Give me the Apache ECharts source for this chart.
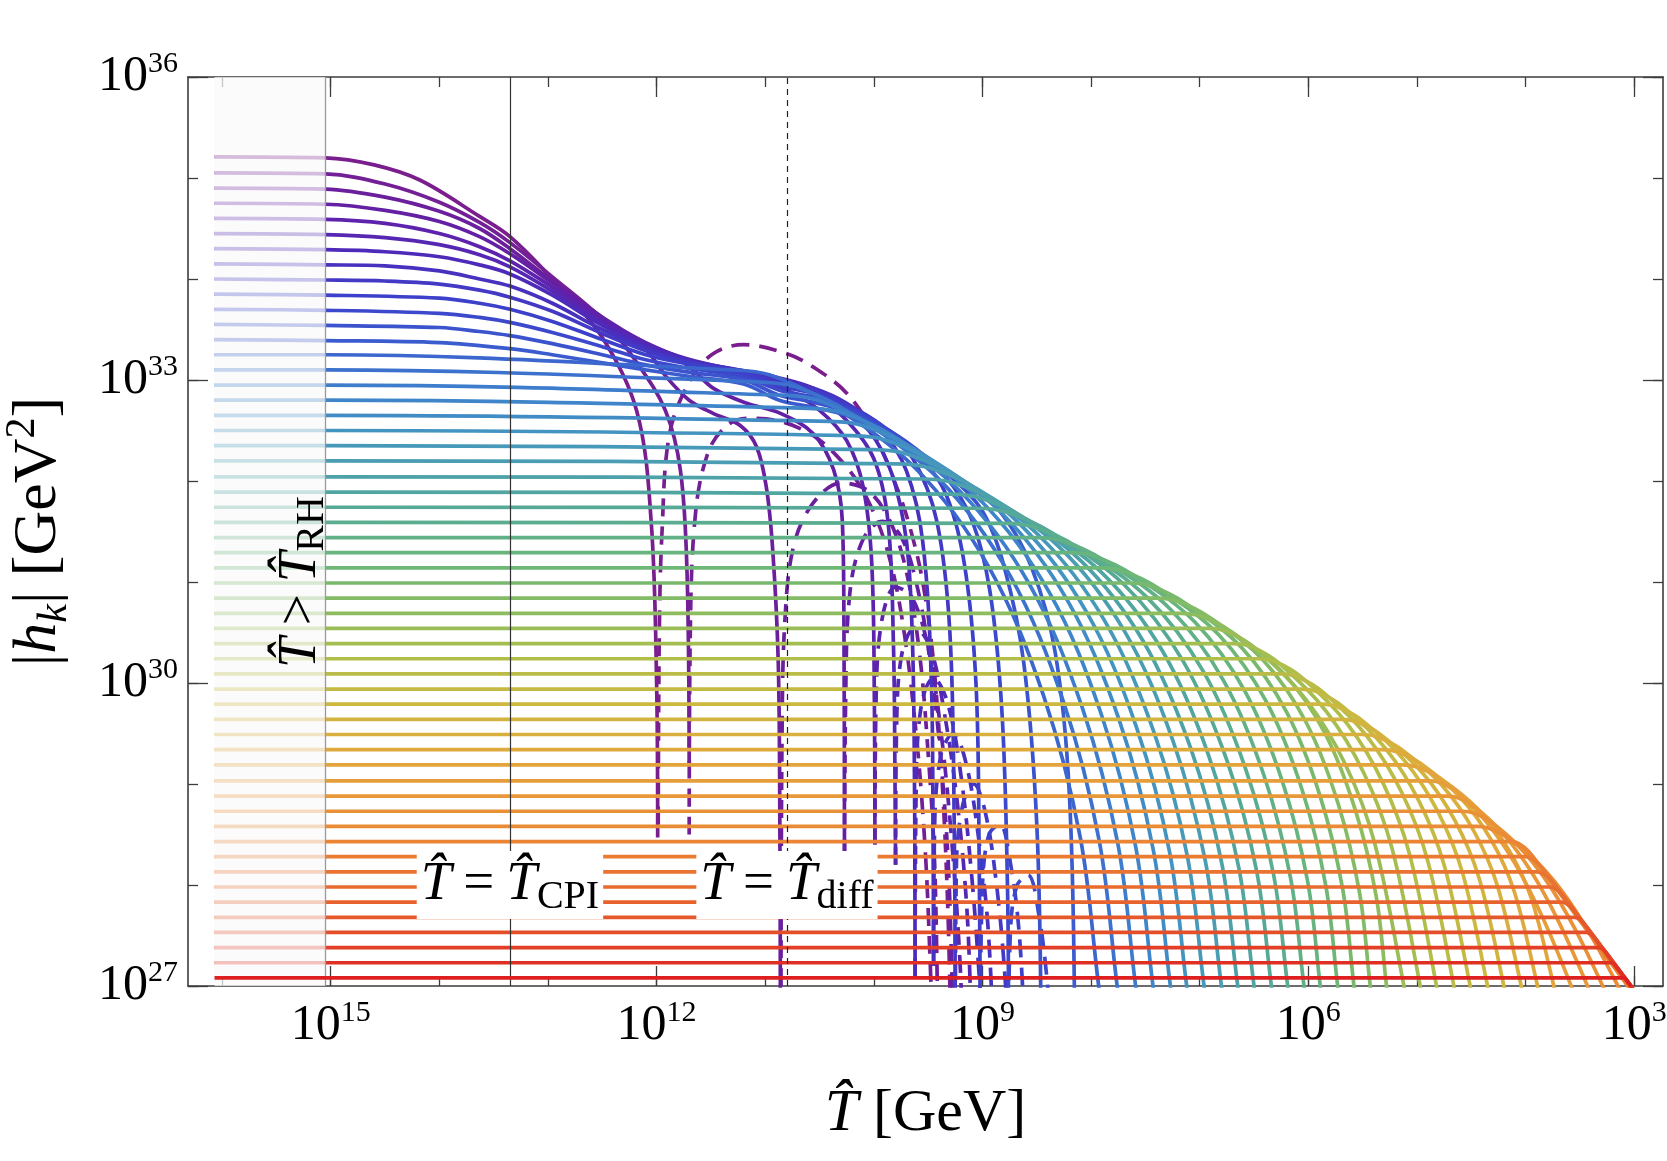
<!DOCTYPE html>
<html>
<head>
<meta charset="utf-8">
<script src="https://cdn.jsdelivr.net/npm/echarts@6/dist/echarts.min.js"></script>
<style>
  html, body { margin: 0; padding: 0; background: #fff; }
  #chart { width: 1667px; height: 1161px; }
</style>
</head>
<body>
<div id="chart"></div>
<script>
// all values are log10: x = log10(T / GeV), y = log10(|h_k| / GeV^2)
const X_MIN = 2.735, X_MAX = 16.314
const Y_MIN = 27, Y_MAX = 36
const X_TICKS  = [3, 4, 5, 6, 7, 8, 9, 10, 11, 12, 13, 14, 15, 16]
const X_LABELS = [3, 6, 9, 12, 15]
const Y_TICKS  = [27, 28, 29, 30, 31, 32, 33, 34, 35, 36]
const Y_LABELS = [27, 30, 33, 36]

const T_START = 16.07
const T_RH    = 15.05
const T_CPI   = 13.35
const T_DIFF  = 10.80

// flat (super-horizon) level of every mode, top to bottom
const LEVELS = [
  35.21, 35.05, 34.90, 34.75, 34.60, 34.45, 34.30, 34.15, 34.00, 33.85,
  33.70, 33.55, 33.40, 33.25, 33.10, 32.95, 32.80, 32.65, 32.50, 32.35,
  32.20, 32.04, 31.89, 31.74, 31.59, 31.44, 31.29, 31.14, 30.99, 30.84,
  30.69, 30.54, 30.39, 30.24, 30.09, 29.94, 29.79, 29.64, 29.49, 29.34,
  29.19, 29.03, 28.88, 28.73, 28.58, 28.43, 28.28, 28.13, 27.98, 27.83,
  27.68, 27.53, 27.38, 27.23, 27.08,
]

// the highest modes, read point by point (after T_RH)
const TOP_0  = [[15.05,35.2],[14.6,35.13],[14.18,34.98],[13.63,34.62],[13.35,34.42],[12.96,34.0],[12.5,33.42],[12.18,32.68],[12.05,31.6],[12.0,30.0],[11.99,28.47]]
const TOP_1  = [[15.05,35.04],[14.5,34.94],[14.0,34.76],[13.63,34.56],[13.35,34.36],[12.96,34.02],[12.5,33.6],[12.2,33.2],[11.92,32.7],[11.78,32.1],[11.72,31.1],[11.7,29.2]]
const TOP_2  = [[15.05,34.89],[14.5,34.81],[14.0,34.67],[13.63,34.5],[13.35,34.3],[12.96,33.98],[12.5,33.62],[12.1,33.3],[11.91,33.03],[11.7,32.8],[11.48,32.67],[11.23,32.55],[11.08,32.34],[10.99,31.94],[10.93,31.3],[10.88,30.2],[10.865,28.5],[10.86,26.5]]
const TOP_3  = [[15.05,34.74],[14.5,34.68],[14.0,34.57],[13.63,34.42],[13.35,34.25],[12.96,33.96],[12.5,33.62],[12.1,33.36],[11.72,33.15],[11.48,32.92],[11.17,32.77],[10.86,32.67],[10.56,32.47],[10.37,32.11],[10.29,31.6],[10.275,30.5],[10.27,27.9]]
const TOP_4  = [[15.05,34.59],[14.5,34.55],[14.0,34.45],[13.63,34.32],[13.35,34.18],[12.96,33.92],[12.5,33.6],[12.1,33.37],[11.72,33.2],[11.2,33.05],[10.8,32.9],[10.5,32.7],[10.25,32.4],[10.1,31.95],[10.02,31.2],[9.995,29.8],[9.99,28.4]]
const TOP_5  = [[15.05,34.44],[14.5,34.41],[14.0,34.34],[13.63,34.24],[13.35,34.12],[12.96,33.88],[12.5,33.57],[12.1,33.36],[11.72,33.21],[11.2,33.08],[10.87,33.0],[10.56,32.86],[10.25,32.6],[10.0,32.22],[9.87,31.6],[9.82,30.4],[9.805,29.0],[9.8,28.2]]
const TOP_6  = [[15.05,34.29],[14.5,34.27],[14.0,34.22],[13.63,34.14],[13.35,34.05],[12.96,33.84],[12.5,33.54],[12.1,33.34],[11.72,33.2],[11.2,33.09],[10.87,33.02],[10.56,32.92],[10.25,32.72],[9.98,32.4],[9.8,31.95],[9.68,31.2],[9.63,29.6],[9.62,27.1]]
const TOP_7  = [[15.05,34.14],[14.5,34.13],[14.0,34.08],[13.63,34.0],[13.35,33.93],[12.96,33.76],[12.5,33.5],[12.1,33.32],[11.72,33.19],[11.2,33.09],[10.87,33.0],[10.56,32.92],[10.25,32.77],[9.94,32.52],[9.7,32.1],[9.55,31.4],[9.47,30.0],[9.455,28.5],[9.45,27.2]]
const TOP_8  = [[15.05,33.99],[14.5,33.98],[14.0,33.95],[13.63,33.89],[13.35,33.82],[12.96,33.68],[12.5,33.46],[12.1,33.29],[11.72,33.18],[11.2,33.08],[10.87,32.97],[10.56,32.9],[10.25,32.76],[9.94,32.56],[9.64,32.22],[9.42,31.6],[9.3,30.5],[9.26,28.6],[9.25,26.5]]
const TOP_9  = [[15.05,33.84],[14.0,33.81],[13.63,33.76],[13.35,33.7],[12.96,33.58],[12.5,33.4],[12.1,33.25],[11.72,33.16],[11.2,33.06],[10.87,32.94],[10.56,32.87],[10.25,32.74],[9.94,32.56],[9.64,32.31],[9.35,31.9],[9.17,31.2],[9.06,30.0],[9.03,28.2],[9.02,26.5]]
const TOP_10 = [[15.05,33.69],[14.0,33.66],[13.63,33.62],[13.35,33.57],[12.96,33.47],[12.5,33.33],[12.1,33.2],[11.72,33.12],[11.2,33.03],[10.87,32.9],[10.56,32.83],[10.25,32.72],[9.94,32.55],[9.64,32.34],[9.35,32.06],[9.1,31.62],[8.93,30.9],[8.82,29.7],[8.77,28.0],[8.76,26.5]]
const TOP_11 = [[15.05,33.54],[14.0,33.52],[13.63,33.48],[13.35,33.44],[12.96,33.36],[12.5,33.25],[12.1,33.15],[11.72,33.08],[11.2,33.0],[10.87,32.85],[10.56,32.78],[10.25,32.69],[9.94,32.53],[9.64,32.33],[9.3,32.05],[9.0,31.7],[8.8,31.15],[8.62,30.2],[8.5,28.6],[8.46,26.5]]
const TOP_12 = [[15.05,33.39],[14.0,33.37],[13.35,33.31],[12.96,33.25],[12.5,33.17],[12.1,33.1],[11.72,33.04],[11.2,32.96],[10.87,32.8],[10.56,32.73],[10.25,32.65],[9.94,32.5],[9.64,32.31],[9.2,32.0],[8.84,31.7],[8.55,31.15],[8.33,30.3],[8.2,28.9],[8.15,26.5]]

// the other modes: where they bend away from their level, where they cross 10^27, and how much they sag before
const SHOULDER_T = [
  11.3, 11.05, 10.85, 10.6, 10.4, 10.2, 10.0, 9.78, 9.55, 9.3,
  9.05, 8.78, 8.5, 8.2, 7.92, 7.65, 7.4, 7.18, 6.92, 6.69,
  6.46, 6.26, 6.07, 5.88, 5.70, 5.51, 5.32, 5.14, 4.88, 4.72,
  4.58, 4.45, 4.13, 4.01, 3.90, 3.78, 3.67, 3.55, 3.44, 3.32,
  3.21, 3.09,
]
const FLOOR_T = [
  7.93, 7.76, 7.59, 7.43, 7.27, 7.12, 6.96, 6.80, 6.65, 6.50,
  6.34, 6.19, 6.04, 5.89, 5.73, 5.58, 5.43, 5.28, 5.12, 4.97,
  4.82, 4.66, 4.51, 4.35, 4.20, 4.04, 3.89, 3.74, 3.58, 3.43,
  3.29, 3.15, 3.06, 3.05, 3.04, 3.04, 3.03, 3.03, 3.03, 3.03,
  3.03, 3.03,
]
const SAG = [
  0.15, 0.12, 0.10, 0.08, 0.06, 0.05, 0.04, 0.03, 0.02, 0.02,
  0.01, 0.01, 0, 0, 0, 0, 0, 0, 0, 0,
  0, 0, 0, 0, 0, 0, 0, 0, 0, 0,
  0, 0, 0, 0, 0, 0, 0, 0, 0, 0,
  0, 0,
]
// shapes of a bend, as fractions of its width and of its drop to 10^27
// high modes bend like a quarter ellipse, lower ones run more straight into the floor
const ARC_HIGH = [[0, 0], [0.1, 0.008], [0.25, 0.05], [0.5, 0.16], [0.7, 0.32], [0.85, 0.53], [0.95, 0.76], [1, 1], [1.05, 1.22]]
const ARC_MID  = [[0, 0], [0.1, 0.01], [0.25, 0.06], [0.5, 0.2], [0.7, 0.38], [0.85, 0.6], [1, 1], [1.05, 1.16]]
const ARC_LOW  = [[0, 0], [0.08, 0.01], [0.2, 0.06], [0.4, 0.2], [0.6, 0.4], [0.8, 0.67], [1, 1], [1.05, 1.1]]
const FAN      = [[0, 0], [0.06, 0.012], [0.15, 0.07], [0.3, 0.23], [1, 1], [1.06, 1.07]]
// first mode index that uses each shape
const MID_FROM = 31, LOW_FROM = 41, FAN_FROM = 45

// dashed branches after the first zero crossing
const DASHED_0  = [[11.985,28.6],[11.975,30.5],[11.95,31.5],[11.88,32.47],[11.69,33.0],[11.48,33.26],[11.2,33.35],[10.8,33.26],[10.56,33.13],[10.25,32.87],[10.0,32.47],[9.79,31.94],[9.67,31.55],[9.55,31.0],[9.45,30.2],[9.37,29.0],[9.32,27.8],[9.29,26.5]]
const DASHED_1  = [[11.70,28.5],[11.69,30.5],[11.64,31.7],[11.52,32.3],[11.35,32.55],[11.17,32.62],[10.9,32.6],[10.56,32.45],[10.3,32.2],[10.1,31.9],[9.9,31.4],[9.75,30.7],[9.62,29.6],[9.53,28.4],[9.48,27.2],[9.46,26.5]]
const DASHED_2  = [[10.855,27.0],[10.845,29.5],[10.82,30.6],[10.74,31.35],[10.56,31.78],[10.3,31.98],[10.05,31.9],[9.85,31.6],[9.7,31.1],[9.58,30.3],[9.5,29.3],[9.44,28.2],[9.41,26.5]]
const DASHED_3  = [[10.27,28.0],[10.26,29.8],[10.22,30.9],[10.1,31.42],[9.92,31.6],[9.75,31.45],[9.6,30.95],[9.48,30.2],[9.38,29.2],[9.31,28.1],[9.27,26.5]]
const DASHED_4  = [[9.99,28.4],[9.98,29.8],[9.93,30.6],[9.8,30.95],[9.65,30.85],[9.5,30.35],[9.38,29.5],[9.28,28.4],[9.21,27.3],[9.18,26.5]]
const DASHED_5  = [[9.80,28.2],[9.79,29.6],[9.74,30.3],[9.62,30.55],[9.48,30.35],[9.35,29.7],[9.23,28.8],[9.14,27.7],[9.1,26.5]]
const DASHED_6  = [[9.62,27.1],[9.61,29.0],[9.56,29.8],[9.45,30.05],[9.32,29.8],[9.2,29.1],[9.1,28.1],[9.03,27.1],[9.0,26.5]]
const DASHED_7  = [[9.45,27.2],[9.44,28.6],[9.38,29.3],[9.27,29.5],[9.15,29.2],[9.04,28.5],[8.95,27.6],[8.9,26.5]]
const DASHED_8  = [[9.25,26.5],[9.24,28.2],[9.18,28.8],[9.08,29.0],[8.97,28.7],[8.87,28.0],[8.8,27.2],[8.76,26.5]]
const DASHED_9  = [[9.02,26.5],[9.0,28.0],[8.94,28.5],[8.84,28.6],[8.74,28.2],[8.66,27.5],[8.61,26.5]]
const DASHED_10 = [[8.76,26.5],[8.74,27.6],[8.68,28.0],[8.58,28.1],[8.48,27.7],[8.4,27.0],[8.37,26.5]]

const TOP_PATHS    = [TOP_0, TOP_1, TOP_2, TOP_3, TOP_4, TOP_5, TOP_6, TOP_7, TOP_8, TOP_9, TOP_10, TOP_11, TOP_12]
const DASHED_PATHS = [DASHED_0, DASHED_1, DASHED_2, DASHED_3, DASHED_4, DASHED_5, DASHED_6, DASHED_7, DASHED_8, DASHED_9, DASHED_10]

// ---- styles ----
const SERIF = '"Liberation Serif", "DejaVu Serif", "Times New Roman", serif'
const FRAME = '#3c3c3c'
const LINE_W = 3.7
const RAINBOW = [
  '#7a1e8e', '#6420a5', '#4e2aba', '#3d40ca', '#3a5ccf', '#3d7dcc', '#4494c2',
  '#4da2aa', '#5aad8e', '#6eb776', '#8ebd5f', '#b1be4a', '#cdb840', '#dfaa3c',
  '#e89838', '#eb8434', '#e86b2f', '#e44f2a', '#dd1f1f',
]

function hexRgb(h) {
  return [1, 3, 5].map((i) => parseInt(h.slice(i, i + 2), 16))
}
function modeColor(j) {
  const t = j / (LEVELS.length - 1) * (RAINBOW.length - 1)
  const i = Math.min(Math.floor(t), RAINBOW.length - 2)
  const f = t - i
  const a = hexRgb(RAINBOW[i]), b = hexRgb(RAINBOW[i + 1])
  const c = a.map((v, k) => Math.round(v + (b[k] - v) * f))
  return `rgb(${c[0]},${c[1]},${c[2]})`
}

function shapeOf(j) {
  if (j >= FAN_FROM) return FAN
  if (j >= LOW_FROM) return ARC_LOW
  if (j >= MID_FROM) return ARC_MID
  return ARC_HIGH
}
function modeData(j) {
  const L = LEVELS[j]
  if (j < TOP_PATHS.length) return [[T_START, L], ...TOP_PATHS[j]]
  const k = j - TOP_PATHS.length
  const xs = SHOULDER_T[k], xf = FLOOR_T[k]
  const top = L - SAG[k]
  const pts = [[T_START, L], [T_RH, L]]
  shapeOf(j).forEach(([u, v]) => pts.push([xs - u * (xs - xf), top - v * (top - Y_MIN)]))
  return pts
}

const series = []
LEVELS.forEach((_, j) => {
  series.push({
    type: 'line',
    data: modeData(j),
    showSymbol: false,
    smooth: 0.35,
    silent: true,
    z: j === LEVELS.length - 1 ? 60 : 2,
    lineStyle: { color: modeColor(j), width: LINE_W },
  })
  if (j < DASHED_PATHS.length) {
    series.push({
      type: 'line',
      data: DASHED_PATHS[j],
      showSymbol: false,
      smooth: 0.35,
      silent: true,
      z: 2,
      lineStyle: { color: modeColor(j), width: LINE_W, type: [18, 10] },
    })
  }
})

// pale band for T > T_RH
series.push({
  type: 'line',
  data: [],
  silent: true,
  markArea: {
    z: 50,
    silent: true,
    itemStyle: { color: 'rgba(249,249,249,0.72)' },
    data: [[{ xAxis: T_START, yAxis: Y_MIN }, { xAxis: T_RH, yAxis: Y_MAX }]],
  },
})
// vertical reference lines
series.push({
  type: 'line',
  data: [],
  silent: true,
  markLine: {
    z: 55,
    silent: true,
    symbol: ['none', 'none'],
    label: { show: false },
    data: [
      { xAxis: T_RH,   lineStyle: { color: '#9a9a9a', width: 1.3, type: 'solid' } },
      { xAxis: T_CPI,  lineStyle: { color: '#333', width: 1.2, type: 'solid' } },
      { xAxis: T_DIFF, lineStyle: { color: '#222', width: 1.2, type: [6, 5] } },
    ],
  },
})

const POW_RICH = {
  b: { fontFamily: SERIF, fontSize: 50, lineHeight: 56, color: '#000' },
  s: { fontFamily: SERIF, fontSize: 30, lineHeight: 30, verticalAlign: 'top', color: '#000' },
}
const powLabel = (v) => `{b|10}{s|${v}}`

function xAxisPart(position, ticks, len, withLine, withLabel) {
  return {
    type: 'value', min: X_MIN, max: X_MAX, inverse: true, position,
    axisLine: { show: withLine, onZero: false, lineStyle: { color: FRAME, width: 1.6 } },
    axisTick: { show: true, inside: true, length: len, customValues: ticks, lineStyle: { color: FRAME, width: 1.3 } },
    axisLabel: withLabel
      ? { show: true, customValues: X_LABELS, formatter: powLabel, rich: POW_RICH, margin: 12 }
      : { show: false },
    splitLine: { show: false },
  }
}
function yAxisPart(position, ticks, len, withLine, withLabel) {
  return {
    type: 'value', min: Y_MIN, max: Y_MAX, interval: 1, position,
    axisLine: { show: withLine, onZero: false, lineStyle: { color: FRAME, width: 1.6 } },
    axisTick: { show: true, inside: true, length: len, customValues: ticks, lineStyle: { color: FRAME, width: 1.3 } },
    axisLabel: withLabel
      ? { show: true, customValues: Y_LABELS, formatter: powLabel, rich: POW_RICH, margin: 10 }
      : { show: false },
    splitLine: { show: false },
  }
}

const xMain = xAxisPart('bottom', X_TICKS, 10, true, true)
Object.assign(xMain, {
  name: '{t|T̂}{n| [GeV]}',
  nameLocation: 'middle',
  nameGap: 92,
  nameTextStyle: {
    rich: {
      t: { fontFamily: SERIF, fontStyle: 'italic', fontSize: 60, lineHeight: 72, color: '#000' },
      n: { fontFamily: SERIF, fontSize: 60, lineHeight: 72, color: '#000' },
    },
  },
})
const yMain = yAxisPart('left', Y_TICKS, 10, true, true)
Object.assign(yMain, {
  name: '{n||}{t|h}{k|k}{n|| [GeV}{s|2}{n|]}',
  nameLocation: 'middle',
  nameRotate: 90,
  nameGap: 112,
  nameTextStyle: {
    rich: {
      n: { fontFamily: SERIF, fontSize: 62, lineHeight: 74, color: '#000' },
      t: { fontFamily: SERIF, fontStyle: 'italic', fontSize: 62, lineHeight: 74, color: '#000' },
      k: { fontFamily: SERIF, fontStyle: 'italic', fontSize: 42, lineHeight: 50, verticalAlign: 'bottom', color: '#000' },
      s: { fontFamily: SERIF, fontSize: 42, lineHeight: 46, verticalAlign: 'top', color: '#000' },
    },
  },
})

const option = {
  animation: false,
  backgroundColor: '#fff',
  grid: { left: 188, right: 4, top: 77, bottom: 175, outerBoundsMode: 'none' },
  xAxis: [
    xMain,
    xAxisPart('bottom', X_LABELS, 20, false, false),
    xAxisPart('top', X_TICKS, 10, true, false),
    xAxisPart('top', X_LABELS, 20, false, false),
  ],
  yAxis: [
    yMain,
    yAxisPart('left', Y_LABELS, 20, false, false),
    yAxisPart('right', Y_TICKS, 10, true, false),
    yAxisPart('right', Y_LABELS, 20, false, false),
  ],
  series,
}

const chart = echarts.init(document.getElementById('chart'), null, { renderer: 'canvas' })
chart.setOption(option)

// annotations, placed through the axes
const NOTE_RICH = {
  t: { fontFamily: SERIF, fontStyle: 'italic', fontSize: 55, lineHeight: 64, color: '#000' },
  o: { fontFamily: SERIF, fontSize: 55, lineHeight: 64, padding: [0, 12, 0, 12], color: '#000' },
  s: { fontFamily: SERIF, fontSize: 40, lineHeight: 44, verticalAlign: 'bottom', color: '#000' },
}
function note(t, h, text, extra) {
  const [x, y] = chart.convertToPixel({ gridIndex: 0 }, [t, h])
  return Object.assign({
    type: 'text', x, y, z: 100, silent: true,
    style: Object.assign({
      text, rich: NOTE_RICH, fill: '#000',
      align: 'center', verticalAlign: 'middle',
      textAlign: 'center', textVerticalAlign: 'middle',
    }, extra.style || {}),
  }, extra.el || {})
}
chart.setOption({
  graphic: [
    note(T_CPI, 28.0, '{t|T̂}{o|=}{t|T̂}{s|CPI}', { style: { backgroundColor: '#fff', padding: [2, 4, 2, 4] } }),
    note(T_DIFF, 28.0, '{t|T̂}{o|=}{t|T̂}{s|diff}', { style: { backgroundColor: '#fff', padding: [2, 4, 2, 4] } }),
    note(15.28, 31.0, '{t|T̂}{o|>}{t|T̂}{s|RH}', { el: { rotation: Math.PI / 2 } }),
  ],
})
</script>
</body>
</html>
